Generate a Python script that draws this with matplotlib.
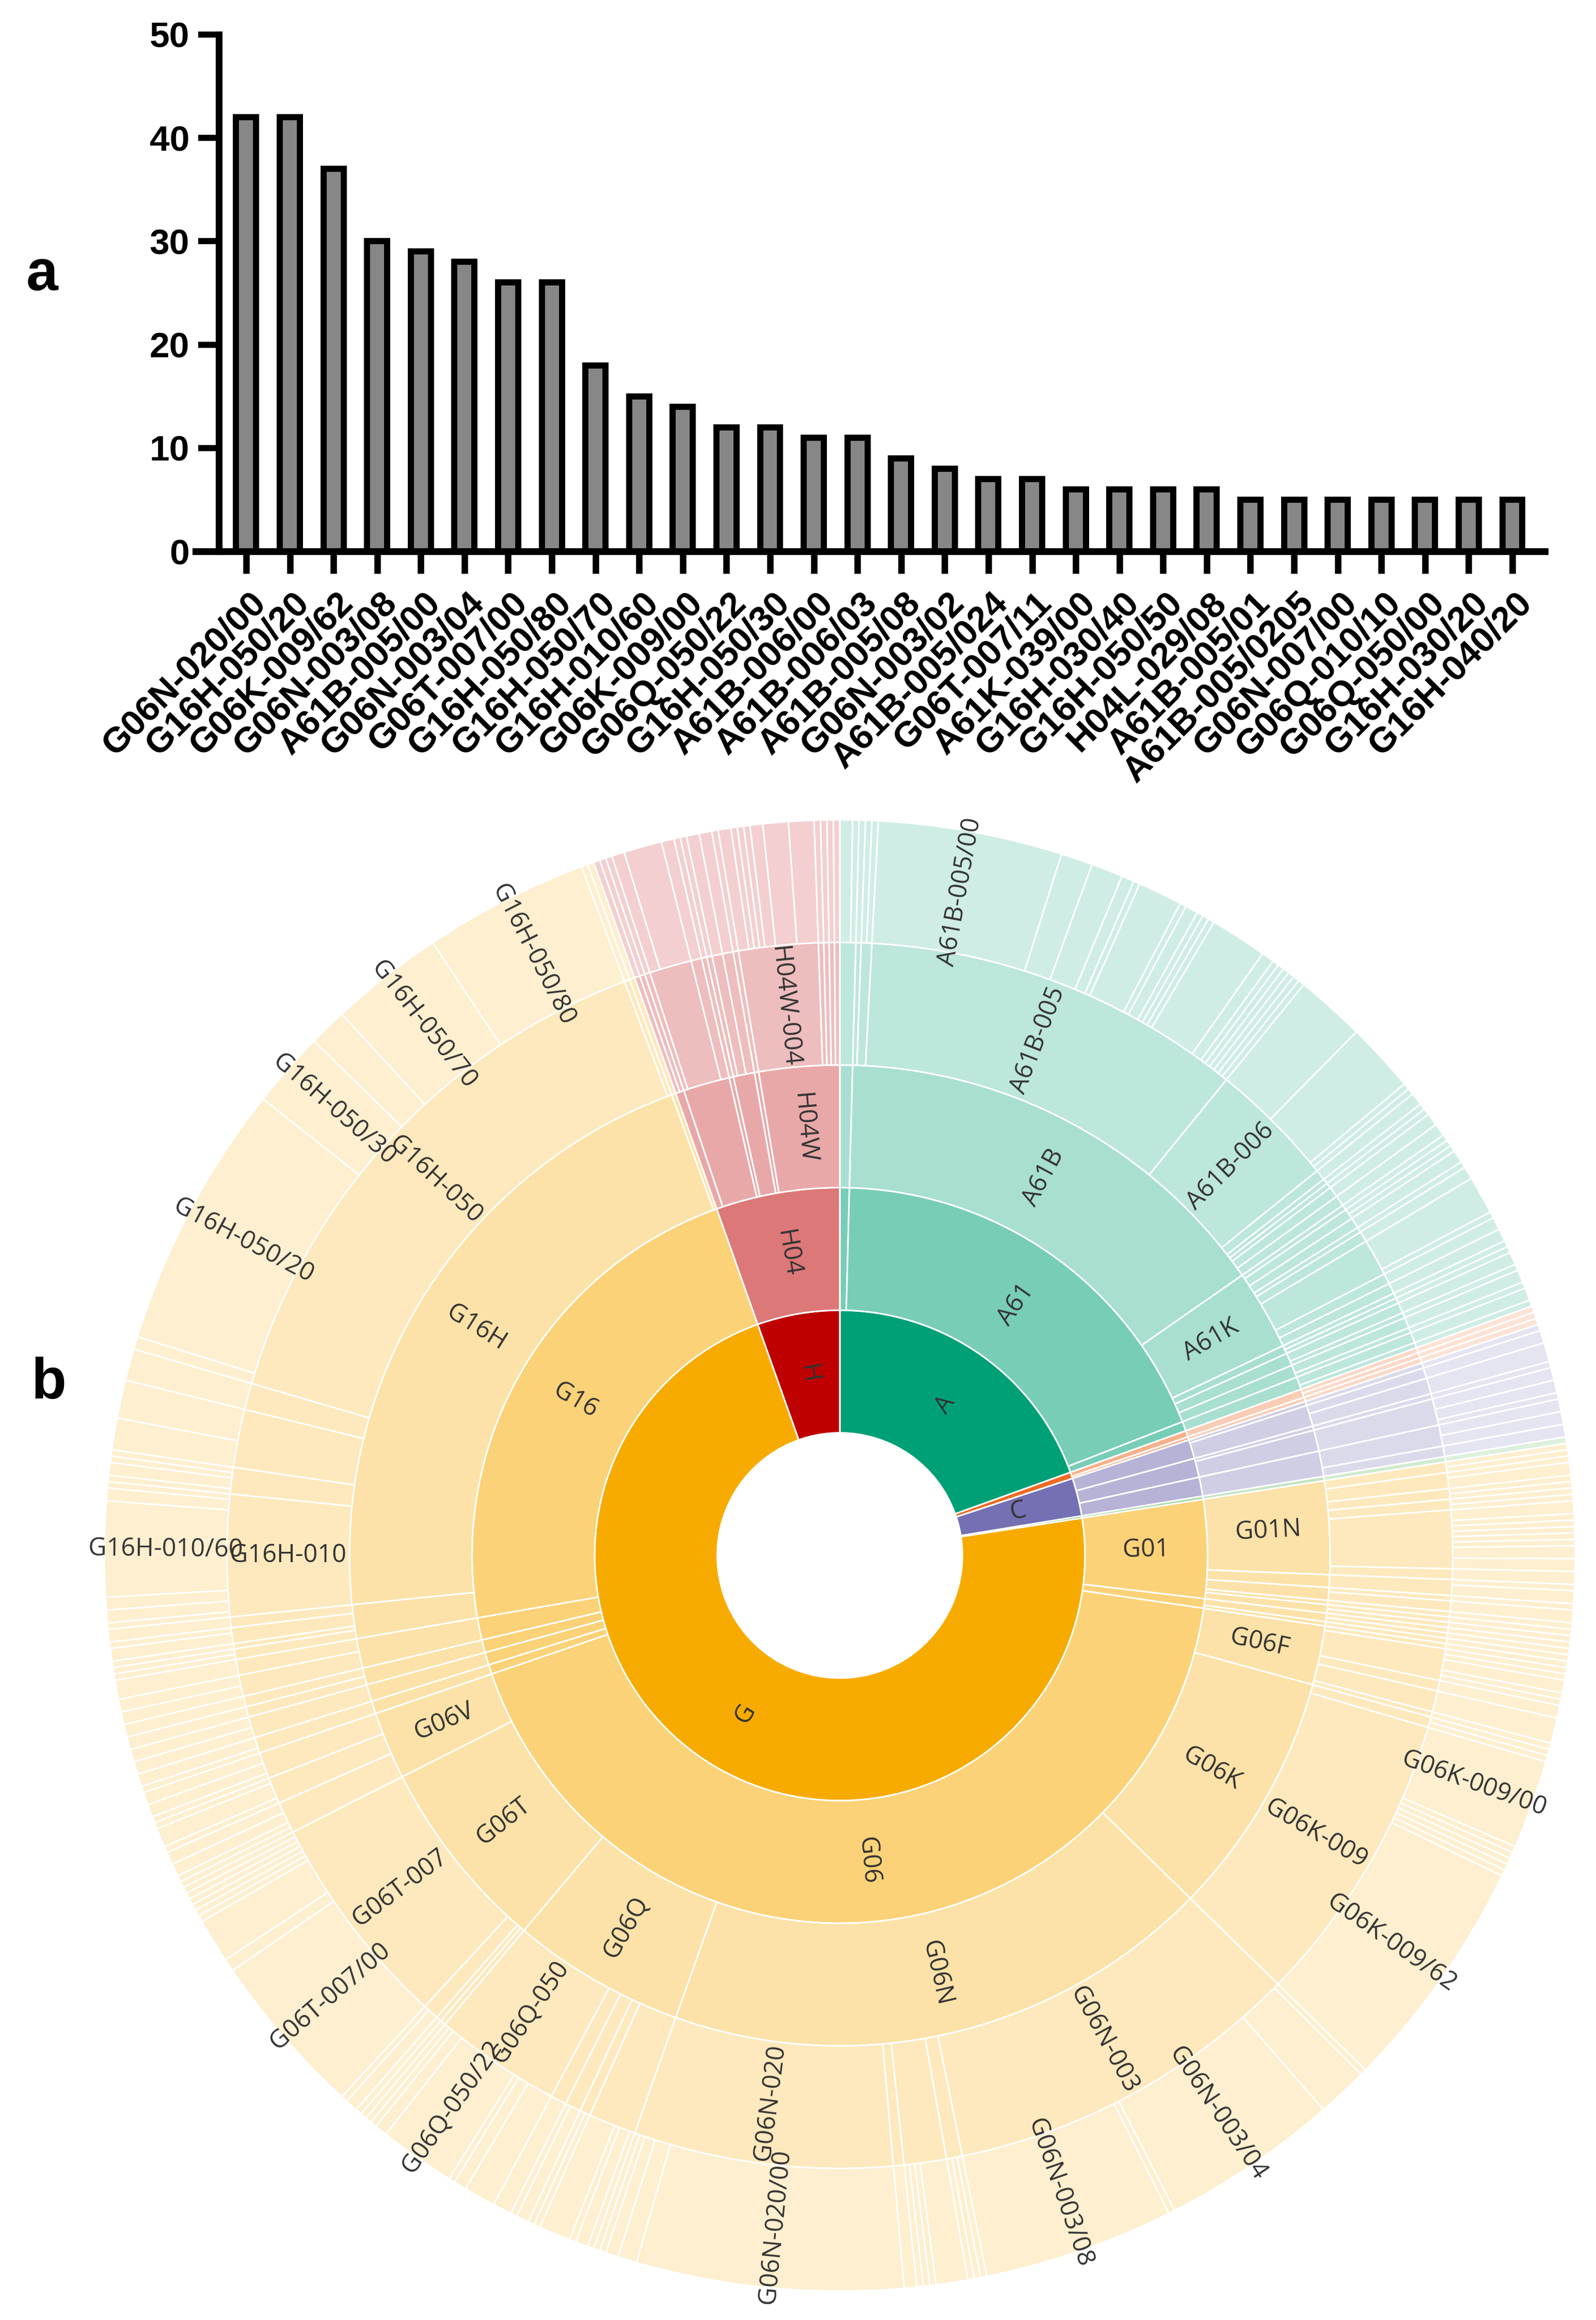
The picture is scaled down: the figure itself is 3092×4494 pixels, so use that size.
import matplotlib
matplotlib.use("Agg")
import matplotlib.pyplot as plt
import matplotlib.transforms as mtransforms
import numpy as np

# ---------------- data: panel a (bar chart) ----------------
bar_codes = ["G06N-020/00", "G16H-050/20", "G06K-009/62", "G06N-003/08", "A61B-005/00",
             "G06N-003/04", "G06T-007/00", "G16H-050/80", "G16H-050/70", "G16H-010/60",
             "G06K-009/00", "G06Q-050/22", "G16H-050/30", "A61B-006/00", "A61B-006/03",
             "A61B-005/08", "G06N-003/02", "A61B-005/024", "G06T-007/11", "A61K-039/00",
             "G16H-030/40", "G16H-050/50", "H04L-029/08", "A61B-005/01", "A61B-005/0205",
             "G06N-007/00", "G06Q-010/10", "G06Q-050/00", "G16H-030/20", "G16H-040/20"]
bar_counts = [42, 42, 37, 30, 29, 28, 26, 26, 18, 15, 14, 12, 12, 11, 11,
              9, 8, 7, 7, 6, 6, 6, 6, 5, 5, 5, 5, 5, 5, 5]
bar_yticks = [0, 10, 20, 30, 40, 50]

# ---------------- data: panel b (sunburst), leaves clockwise from 12 o'clock ----------------
leaves_A = [
    ("A23L-033/00", 2), ("A23L-033/10", 1),
    ("A61B-001/00", 1), ("A61B-003/00", 1), ("A61B-003/14", 1),
    ("A61B-005/00", 29), ("A61B-005/01", 5), ("A61B-005/0205", 5), ("A61B-005/021", 2),
    ("A61B-005/022", 1), ("A61B-005/024", 7), ("A61B-005/0245", 1), ("A61B-005/04", 2),
    ("A61B-005/0402", 1), ("A61B-005/0476", 1), ("A61B-005/055", 1), ("A61B-005/08", 9),
    ("A61B-005/11", 2), ("A61B-005/117", 1), ("A61B-005/145", 1), ("A61B-005/16", 1),
    ("A61B-005/18", 1), ("A61B-005/346", 1), ("A61B-005/372", 1),
    ("A61B-006/00", 11), ("A61B-006/03", 11), ("A61B-006/032", 1), ("A61B-006/50", 1),
    ("A61B-008/08", 2), ("A61B-010/00", 1), ("A61B-017/00", 1), ("A61B-034/10", 2), ("A61B-090/00", 2),
    ("A61K-008/02", 1), ("A61K-031/437", 1), ("A61K-031/70", 1), ("A61K-035/12", 2), ("A61K-036/00", 1),
    ("A61K-038/00", 2), ("A61K-039/00", 6), ("A61K-039/395", 1), ("A61K-045/06", 2), ("A61K-049/00", 2),
    ("A61M-005/172", 1), ("A61M-021/02", 1), ("A61N-001/36", 2), ("A61N-005/10", 1),
    ("A61P-035/00", 2), ("A61P-043/00", 1),
    ("A63B-024/00", 2), ("A63B-071/06", 1),
]
leaves_B = [("B25J-009/16", 1), ("B25J-011/00", 1), ("B60W-040/08", 1)]
leaves_C = [("C07D-401/14", 1), ("C07K-014/47", 2), ("C07K-016/28", 3),
            ("C12N-015/11", 1), ("C12Q-001/68", 2), ("C12Q-001/6883", 2), ("C12Q-001/6886", 1),
            ("C40B-030/00", 2), ("C40B-030/02", 2), ("C40B-040/00", 2)]
leaves_F = [("F24F-011/00", 1)]
leaves_G01 = [
    ("G01N-015/10", 1), ("G01N-015/14", 1), ("G01N-021/35", 1), ("G01N-021/65", 2),
    ("G01N-027/00", 1), ("G01N-027/327", 1), ("G01N-030/02", 1), ("G01N-030/86", 1),
    ("G01N-033/48", 2), ("G01N-033/483", 1), ("G01N-033/487", 1), ("G01N-033/49", 1),
    ("G01N-033/50", 1), ("G01N-033/53", 1), ("G01N-033/574", 2), ("G01N-033/68", 2),
    ("G01N-035/00", 2),
    ("G01R-033/48", 1), ("G01R-033/56", 2), ("G01S-007/52", 1), ("G01S-013/86", 2),
    ("G01T-001/16", 1), ("G01V-001/00", 1), ("G01V-003/00", 1),
    ("G05B-013/02", 1), ("G05B-019/418", 1), ("G05D-001/02", 1),
]
leaves_G06 = [
    ("G06F-003/01", 1), ("G06F-016/24", 1), ("G06F-016/245", 1), ("G06F-016/28", 2),
    ("G06F-016/35", 1), ("G06F-016/36", 1), ("G06F-017/18", 2), ("G06F-019/00", 4), ("G06F-021/62", 1),
    ("G06K-007/10", 1), ("G06K-007/14", 1), ("G06K-009/00", 14), ("G06K-009/03", 1),
    ("G06K-009/20", 1), ("G06K-009/32", 1), ("G06K-009/46", 1), ("G06K-009/52", 1), ("G06K-009/62", 37),
    ("G06N-003/00", 1), ("G06N-003/02", 8), ("G06N-003/04", 28), ("G06N-003/06", 1), ("G06N-003/08", 30),
    ("G06N-005/00", 1), ("G06N-005/02", 1), ("G06N-005/04", 1),
    ("G06N-007/00", 5), ("G06N-007/01", 1), ("G06N-007/02", 1), ("G06N-007/08", 1), ("G06N-010/00", 2),
    ("G06N-020/00", 42), ("G06N-020/10", 3), ("G06N-020/20", 2), ("G06N-020/40", 1), ("G06N-020/50", 1),
    ("G06Q-010/04", 1), ("G06Q-010/06", 2), ("G06Q-010/08", 1), ("G06Q-010/10", 5),
    ("G06Q-020/32", 1), ("G06Q-020/40", 1), ("G06Q-030/02", 2), ("G06Q-030/06", 1), ("G06Q-040/08", 3),
    ("G06Q-050/00", 5), ("G06Q-050/10", 2), ("G06Q-050/20", 1), ("G06Q-050/22", 12),
    ("G06Q-050/24", 2), ("G06Q-050/26", 1), ("G06Q-050/30", 1),
    ("G06T-001/00", 1), ("G06T-003/40", 1), ("G06T-005/00", 2), ("G06T-005/50", 1),
    ("G06T-007/00", 26), ("G06T-007/10", 2), ("G06T-007/11", 7), ("G06T-007/136", 1), ("G06T-007/187", 1),
    ("G06T-007/20", 1), ("G06T-007/33", 1), ("G06T-007/70", 1), ("G06T-007/73", 1),
    ("G06V-010/25", 1), ("G06V-010/44", 1), ("G06V-010/764", 2), ("G06V-010/82", 2),
    ("G06V-020/60", 1), ("G06V-020/69", 3), ("G06V-020/70", 1),
    ("G06V-040/10", 1), ("G06V-040/16", 2), ("G06V-040/20", 2),
]
leaves_G07_G10 = [
    ("G07C-009/00", 1), ("G07C-009/37", 2), ("G08B-021/02", 2), ("G08B-021/04", 2),
    ("G09B-019/00", 2), ("G09B-023/28", 2), ("G10L-015/22", 2), ("G10L-015/26", 2), ("G10L-025/66", 3),
]
leaves_G16 = [
    ("G16B-020/00", 1), ("G16B-020/20", 1), ("G16B-025/10", 1), ("G16B-040/00", 2),
    ("G16B-040/20", 1), ("G16B-050/00", 2),
    ("G16H-010/10", 1), ("G16H-010/20", 2), ("G16H-010/40", 2), ("G16H-010/60", 15),
    ("G16H-010/65", 2), ("G16H-010/90", 1),
    ("G16H-020/10", 1), ("G16H-020/30", 2), ("G16H-020/40", 1), ("G16H-020/60", 1),
    ("G16H-030/20", 5), ("G16H-030/40", 6), ("G16H-040/20", 5),
    ("G16H-050/00", 2), ("G16H-050/20", 42), ("G16H-050/30", 12), ("G16H-050/50", 6),
    ("G16H-050/70", 18), ("G16H-050/80", 26),
    ("G16H-070/60", 1), ("G16Z-099/00", 1),
]
leaves_H = [
    ("H04B-001/38", 1), ("H04B-005/00", 1),
    ("H04L-009/32", 1), ("H04L-029/06", 2), ("H04L-029/08", 6), ("H04L-067/12", 2),
    ("H04M-001/725", 1), ("H04N-005/232", 1), ("H04N-007/18", 2), ("H04N-021/44", 2), ("H04Q-009/00", 1),
    ("H04W-004/02", 2), ("H04W-004/021", 1), ("H04W-004/029", 1), ("H04W-004/33", 1),
    ("H04W-004/38", 2), ("H04W-004/70", 4), ("H04W-004/80", 4),
    ("H04W-012/06", 1), ("H04W-064/00", 1), ("H04W-084/18", 1), ("H04W-088/02", 1),
]

section_colors = {"A": "#00A077", "B": "#EE6A24", "C": "#7570B3", "F": "#4DAF4A",
                  "G": "#F7AB00", "H": "#BE0000"}
level_alpha = [1.0, 0.53, 0.34, 0.26, 0.19]
label_min = 12

# ---------------- figure ----------------
W, H = 3092, 4494
fig = plt.figure(figsize=(W / 100, H / 100), dpi=100)
fig.patch.set_facecolor("white")
bold_font = ["Liberation Sans", "DejaVu Sans"]

# ---------------- panel b: sunburst ----------------
ax2 = fig.add_axes([0, 0, 1, 1], zorder=0)
cx, cy = 1627, H - 3013
R0 = 237.5

all_leaves = leaves_A + leaves_B + leaves_C + leaves_F + leaves_G01 + leaves_G06 + leaves_G07_G10 + leaves_G16 + leaves_H


def level_key(code, lev):
    if lev == 0:
        return code[0]
    if lev == 1:
        return code[:3]
    if lev == 2:
        return code[:4]
    if lev == 3:
        return code.split("/")[0]
    return code


def blend(hexcol, a):
    r, g, b = matplotlib.colors.to_rgb(hexcol)
    return (1 - a + a * r, 1 - a + a * g, 1 - a + a * b)


for lev in range(5):
    names, vals = [], []
    for code, v in all_leaves:
        k = level_key(code, lev)
        if names and names[-1] == k:
            vals[-1] += v
        else:
            names.append(k)
            vals.append(v)
    cols = [blend(section_colors[n[0]], level_alpha[lev]) for n in names]
    ax2.pie(vals, radius=R0 * (lev + 2), startangle=90, counterclock=False, center=(cx, cy),
            colors=cols, labeldistance=None,
            wedgeprops=dict(width=R0, edgecolor="white", linewidth=2.2))
    total = float(sum(vals))
    cum = 0.0
    rmid = R0 * (lev + 1) + R0 / 2
    for n, v in zip(names, vals):
        if v >= label_min:
            th = (cum + v / 2) / total * 360.0
            x = cx + rmid * np.sin(np.radians(th))
            y = cy + rmid * np.cos(np.radians(th))
            rot = 90 - th if th < 180 else 270 - th
            ax2.text(x, y, n, rotation=rot, rotation_mode="anchor", ha="center", va="center",
                     fontsize=35, color="#333333", family=["Open Sans", "DejaVu Sans"])
        cum += v

ax2.set_xlim(0, W)
ax2.set_ylim(0, H)
ax2.set_aspect("equal")
ax2.axis("off")

# ---------------- panel a: bar chart ----------------
x0, x1 = 379, 2993
y_top, y_zero = 67, 1068
ax = fig.add_axes([x0 / W, 1 - y_zero / H, (x1 - x0) / W, (y_zero - y_top) / H], zorder=2)
ax.patch.set_alpha(0)
xpos = np.arange(len(bar_counts))
ax.bar(xpos, bar_counts, width=0.46, color="#878787", edgecolor="black", linewidth=8.6, zorder=2)
ax.set_xlim(-1.158, 29.745)
ax.set_ylim(0, 50)
for s in ["top", "right"]:
    ax.spines[s].set_visible(False)
ax.spines["left"].set_position(("data", -0.626))
ax.spines["left"].set_linewidth(9.5)
ax.spines["bottom"].set_linewidth(9.5)
ax.spines["left"].set_capstyle("projecting")
ax.set_yticks(bar_yticks)
ax.set_yticklabels([str(t) for t in bar_yticks], fontsize=50, fontweight="bold", family=bold_font)
ax.tick_params(axis="y", length=29, width=8.5, pad=12, direction="out")
ax.set_xticks(xpos)
ax.set_xticklabels(bar_codes, fontsize=50, fontweight="bold", family=bold_font,
                   rotation=45, ha="right", va="top", rotation_mode="anchor")
ax.tick_params(axis="x", length=31, width=9, pad=18, direction="out")
shift = mtransforms.ScaledTranslation(0.05, 0, fig.dpi_scale_trans)
for lbl in ax.get_xticklabels():
    lbl.set_transform(lbl.get_transform() + shift)

# panel letters
fig.text(82 / W, 1 - 533 / H, "a", fontsize=80, fontweight="bold", family=bold_font,
         ha="center", va="center")
fig.text(95 / W, 1 - 2680 / H, "b", fontsize=80, fontweight="bold", family=bold_font,
         ha="center", va="center")

fig.savefig("out.png", dpi=100, facecolor="white")
